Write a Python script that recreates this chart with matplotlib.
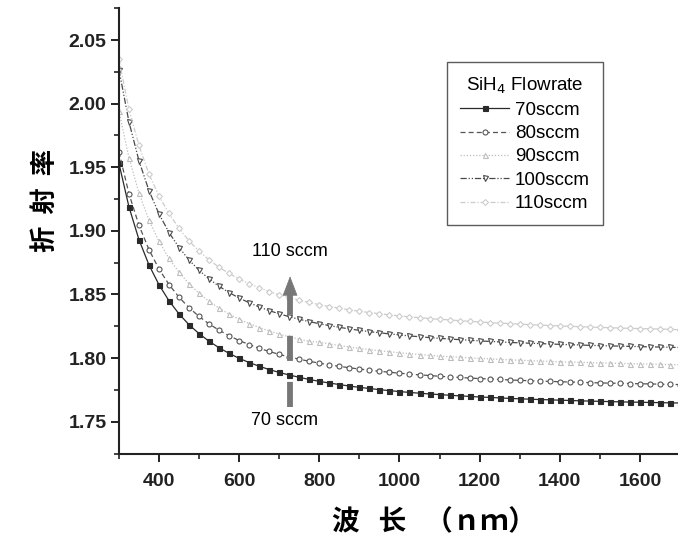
import matplotlib

matplotlib.use("Agg")
import matplotlib.pyplot as plt  # noqa: E402
from matplotlib.ticker import MultipleLocator  # noqa: E402

plt.rcParams["font.family"] = ["Liberation Sans", "Noto Sans CJK SC", "DejaVu Sans"]

# wavelength grid, nm
wl = [300, 325, 350, 375, 400, 425, 450, 475, 500, 525, 550, 575, 600, 625, 650,
      675, 700, 725, 750, 775, 800, 825, 850, 875, 900, 925, 950, 975, 1000, 1025,
      1050, 1075, 1100, 1125, 1150, 1175, 1200, 1225, 1250, 1275, 1300, 1325, 1350,
      1375, 1400, 1425, 1450, 1475, 1500, 1525, 1550, 1575, 1600, 1625, 1650, 1675, 1700]

n70 = [1.9531, 1.9189, 1.8931, 1.8732, 1.8576, 1.8450, 1.8347, 1.8262, 1.8192, 1.8132,
       1.8081, 1.8037, 1.7998, 1.7965, 1.7936, 1.7910, 1.7887, 1.7867, 1.7849, 1.7832,
       1.7817, 1.7804, 1.7792, 1.7780, 1.7770, 1.7761, 1.7752, 1.7744, 1.7737, 1.7730,
       1.7724, 1.7718, 1.7713, 1.7708, 1.7703, 1.7699, 1.7694, 1.7691, 1.7687, 1.7683,
       1.7680, 1.7677, 1.7674, 1.7672, 1.7669, 1.7667, 1.7664, 1.7662, 1.7660, 1.7658,
       1.7656, 1.7654, 1.7653, 1.7651, 1.7650, 1.7648, 1.7647]
n80 = [1.9621, 1.9292, 1.9044, 1.8852, 1.8700, 1.8578, 1.8478, 1.8396, 1.8327, 1.8268,
       1.8219, 1.8176, 1.8138, 1.8106, 1.8077, 1.8052, 1.8029, 1.8009, 1.7991, 1.7975,
       1.7960, 1.7947, 1.7935, 1.7924, 1.7914, 1.7905, 1.7896, 1.7889, 1.7881, 1.7875,
       1.7868, 1.7863, 1.7857, 1.7852, 1.7848, 1.7843, 1.7839, 1.7836, 1.7832, 1.7828,
       1.7825, 1.7822, 1.7819, 1.7817, 1.7814, 1.7812, 1.7810, 1.7807, 1.7805, 1.7803,
       1.7802, 1.7800, 1.7798, 1.7797, 1.7795, 1.7793, 1.7792]
n90 = [1.9944, 1.9575, 1.9298, 1.9084, 1.8917, 1.8783, 1.8674, 1.8584, 1.8509, 1.8445,
       1.8392, 1.8346, 1.8305, 1.8271, 1.8240, 1.8213, 1.8189, 1.8167, 1.8148, 1.8131,
       1.8125, 1.8111, 1.8099, 1.8087, 1.8076, 1.8067, 1.8058, 1.8050, 1.8042, 1.8035,
       1.8028, 1.8022, 1.8016, 1.8011, 1.8007, 1.8002, 1.7997, 1.7994, 1.7990, 1.7986,
       1.7983, 1.7980, 1.7977, 1.7974, 1.7971, 1.7969, 1.7967, 1.7964, 1.7962, 1.7960,
       1.7958, 1.7956, 1.7954, 1.7953, 1.7951, 1.7949, 1.7948]
n100 = [2.0268, 1.9857, 1.9551, 1.9316, 1.9133, 1.8987, 1.8869, 1.8771, 1.8690, 1.8622,
        1.8564, 1.8515, 1.8472, 1.8435, 1.8402, 1.8373, 1.8348, 1.8325, 1.8305, 1.8287,
        1.8270, 1.8255, 1.8242, 1.8229, 1.8218, 1.8208, 1.8199, 1.8190, 1.8182, 1.8174,
        1.8168, 1.8161, 1.8155, 1.8150, 1.8145, 1.8140, 1.8135, 1.8131, 1.8127, 1.8123,
        1.8120, 1.8117, 1.8114, 1.8111, 1.8108, 1.8105, 1.8103, 1.8100, 1.8098, 1.8096,
        1.8094, 1.8092, 1.8090, 1.8088, 1.8087, 1.8085, 1.8083]
n110 = [2.0348, 1.9957, 1.9671, 1.9446, 1.9273, 1.9137, 1.9019, 1.8921, 1.8840, 1.8772,
        1.8714, 1.8665, 1.8622, 1.8585, 1.8552, 1.8523, 1.8498, 1.8475, 1.8455, 1.8437,
        1.8420, 1.8405, 1.8392, 1.8379, 1.8368, 1.8358, 1.8349, 1.8340, 1.8332, 1.8324,
        1.8318, 1.8311, 1.8305, 1.8300, 1.8294, 1.8289, 1.8284, 1.8279, 1.8275, 1.8271,
        1.8267, 1.8263, 1.8260, 1.8256, 1.8253, 1.8250, 1.8247, 1.8244, 1.8241, 1.8239,
        1.8236, 1.8234, 1.8232, 1.8230, 1.8228, 1.8226, 1.8223]

labels = ["70sccm", "80sccm", "90sccm", "100sccm", "110sccm"]

# (color, linestyle, marker, filled)
STYLE = [
    ("#2a2a2a", "-", "s", True),
    ("#555555", (0, (4, 2.5)), "o", False),
    ("#bdbdbd", (0, (1, 1.5)), "^", False),
    ("#4a4a4a", (0, (5, 1.5, 1, 1.5, 1, 1.5)), "v", False),
    ("#cccccc", (0, (4, 1.5, 1, 1.5)), "D", False),
]

fig = plt.figure(figsize=(6.78, 5.36), dpi=100)
ax = fig.add_axes([0.1754, 0.1539, 0.8276, 0.8308])

for ys, lab, (c, ls, mk, filled) in zip([n70, n80, n90, n100, n110], labels, STYLE):
    ax.plot(wl, ys, color=c, ls=ls, lw=0.9, marker=mk,
            ms=3.6 if mk != "D" else 3.0,
            mfc=c if filled else "white", mec=c, mew=0.8, label=lab)

ax.set_xlim(300, 1700)
ax.set_ylim(1.725, 2.075)
ax.xaxis.set_minor_locator(MultipleLocator(100))
ax.yaxis.set_minor_locator(MultipleLocator(0.025))
ax.set_xticks([400, 600, 800, 1000, 1200, 1400, 1600])
ax.set_yticks([1.75, 1.80, 1.85, 1.90, 1.95, 2.00, 2.05])
ax.yaxis.set_major_formatter(plt.FuncFormatter(lambda v, p: f"{v:.2f}"))

for s in ("top", "right"):
    ax.spines[s].set_visible(False)
for s in ("left", "bottom"):
    ax.spines[s].set_linewidth(1.5)
    ax.spines[s].set_color("#222222")
ax.tick_params(which="major", direction="out", length=6, width=1.4, colors="#222222",
               labelsize=14)
ax.tick_params(axis="y", which="major", pad=3)
ax.tick_params(axis="x", which="major", pad=8)
ax.tick_params(which="minor", direction="out", length=3.5, width=1.2, colors="#222222")
for t in ax.get_xticklabels() + ax.get_yticklabels():
    t.set_fontweight("bold")

ax.set_ylabel("折  射  率", family=["Noto Sans CJK SC"], fontsize=19, fontweight="bold")
ax.yaxis.set_label_coords(-0.107, 0.569)
ax.set_xlabel("波   长   （ｎｍ）", family=["Noto Sans CJK SC"], fontsize=20, fontweight="bold")
ax.xaxis.set_label_coords(0.562, -0.122)

# flowrate trend arrow
ax.plot([727, 727], [1.7616, 1.851], color="#777777", lw=4.2, ls=(0, (4.3, 3.6)),
        solid_capstyle="butt")
ax.annotate("", xy=(727, 1.8665), xytext=(727, 1.849),
            arrowprops=dict(arrowstyle="-|>,head_length=1.3,head_width=0.5",
                            color="#777777", lw=0.5))
ax.text(727, 1.8834, "110 sccm", ha="center", va="center", fontsize=13)
ax.text(712, 1.7513, "70 sccm", ha="center", va="center", fontsize=13)

leg = ax.legend(title="SiH$_4$ Flowrate", loc="upper left", bbox_to_anchor=(0.585, 0.879),
                borderaxespad=0, fontsize=13.5, title_fontsize=13.5, frameon=True,
                fancybox=False, edgecolor="#333333", handlelength=2.6, handletextpad=0.3,
                labelspacing=0.33, borderpad=0.7)
leg.get_frame().set_linewidth(1.0)

fig.savefig("out.png", dpi=100, facecolor="white")
